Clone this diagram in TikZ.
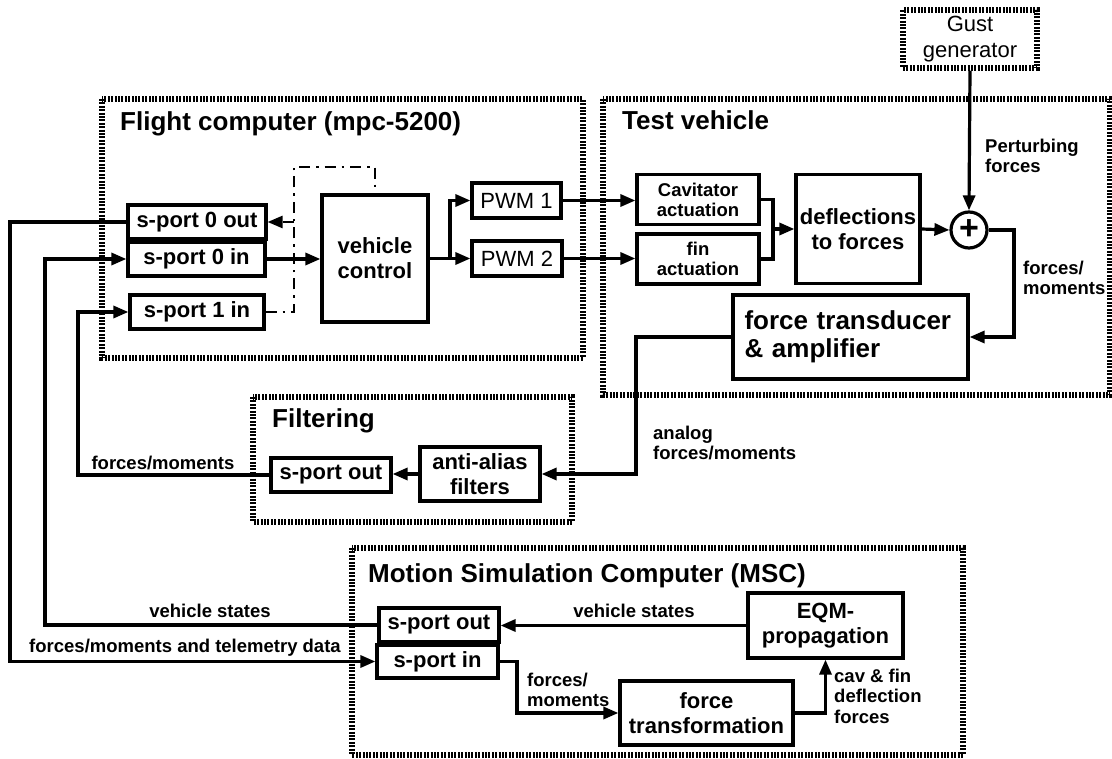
\documentclass[tikz,border=0pt]{standalone}
\usepackage{fontspec}
\setmainfont{Liberation Sans}
\usetikzlibrary{arrows.meta}

\begin{document}
\begin{tikzpicture}[x=1pt,y=-1pt,
  blk/.style={draw,line width=3.2pt,inner sep=0pt,align=center,
    font=\fontsize{22}{25}\selectfont\bfseries},
  plain/.style={font=\fontsize{22}{26}\selectfont\mdseries},
  lbl/.style={inner sep=0pt,align=left,font=\fontsize{18.5}{20.5}\selectfont\bfseries},
  ttl/.style={anchor=base west,inner sep=0pt,font=\fontsize{26}{28}\selectfont\bfseries},
  grp/.style={line width=5.5pt,dash pattern=on 2pt off 1.4pt},
  wire/.style={line width=3.2pt},
  arr/.style={wire,-{Triangle[length=15pt,width=12pt]}},
  ctrl/.style={line width=2.6pt,dash pattern=on 11pt off 6pt on 2.5pt off 6pt}]
\useasboundingbox (0,0) rectangle (1112,759);

%FLIGHT COMPUTER
  \draw[grp] (102,99) rectangle (583,358);
  \node[ttl] (fctitle) at (120,131) {Flight computer (mpc-5200)};
  \node[blk,minimum width=138,minimum height=34] (sp0out) at (197,222) {s-port 0 out};
  \node[blk,minimum width=137,minimum height=34] (sp0in) at (196.5,259) {s-port 0 in};
  \node[blk,minimum width=134,minimum height=34] (sp1in) at (197,312) {s-port 1 in};
  \node[blk,minimum width=106,minimum height=127] (vc) at (375,258.5) {vehicle\\control};
  \node[blk,plain,minimum width=89,minimum height=35] (pwm1) at (516.5,200.5) {PWM 1};
  \node[blk,plain,minimum width=90,minimum height=35] (pwm2) at (517,258.5) {PWM 2};
  \coordinate (dd) at (294,167);
  \coordinate (br) at (450,258.5);
  \draw[arr] (sp0in.east) -- (sp0in.east -| vc.west);
  \draw[ctrl] (sp1in.east) -| (dd) -| (vc.north);
  \draw[ctrl,-{Triangle[length=15pt,width=12pt]}] (dd |- sp0out.east) -- (sp0out.east);
  \draw[wire] (vc.east) -- (br);
  \draw[arr] (br) |- (pwm1.west);
  \draw[arr] (br) -- (pwm2.west);

%TEST VEHICLE
  \draw[grp] (603,99) rectangle (1110,395);
  \node[ttl] (tvtitle) at (622,130) {Test vehicle};
  \node[draw,grp,plain,align=center,inner sep=0pt,minimum width=134,minimum height=58]
    (gust) at (970,39) {Gust\\generator};
  \node[blk,font=\fontsize{18.5}{20}\selectfont\bfseries,minimum width=122,minimum height=50]
    (cav) at (698,199.5) {Cavitator\\actuation};
  \node[blk,font=\fontsize{18.5}{20}\selectfont\bfseries,minimum width=122,minimum height=50]
    (fin) at (698,259) {fin\\actuation};
  \node[blk,minimum width=124,minimum height=109] (defl) at (858,229) {deflections\\to forces};
  \node[draw,circle,line width=3.2pt,minimum size=36,inner sep=0pt,
    font=\fontsize{34}{34}\selectfont\bfseries] (sum) at (969,230) {+};
  \node[blk,align=left,text width=212,inner xsep=11.5pt,minimum height=84,
    font=\fontsize{26}{28}\selectfont\bfseries] (ftr) at (850.5,337) {force transducer\\\& amplifier};
  \coordinate (jn) at (773,229);
  \coordinate (fm) at (1014,337);
  \draw[arr] (pwm1.east) -- (pwm1.east -| cav.west);
  \draw[arr] (pwm2.east) -- (pwm2.east -| fin.west);
  \draw[wire] (cav.east) -| (jn);
  \draw[wire] (fin.east) -| (jn);
  \draw[arr] (jn) -- (defl.west);
  \draw[arr] (defl.east) -- (sum.west);
  \draw[arr] (gust.south) -- (sum.north);
  \draw[arr] (sum.east) -| (fm) -- (ftr.east);
  \node[lbl,anchor=west] (pert) at (985,156) {Perturbing\\forces};
  \node[lbl,anchor=west] (fmr) at (1023,278) {forces/\\moments};

%FILTERING
  \draw[grp] (253,397) rectangle (572,522);
  \node[ttl] (fltitle) at (272,428) {Filtering};
  \node[blk,minimum width=120,minimum height=54] (aa) at (480,474) {anti-alias\\filters};
  \node[blk,minimum width=120,minimum height=34] (fout) at (331,475) {s-port out};
  \coordinate (an) at (636,474);
  \draw[arr] (ftr.west) -| (an) -- (aa.east);
  \draw[arr] (aa.west) -- (aa.west -| fout.east);
  \node[lbl,anchor=west] (anlg) at (653,443) {analog\\forces/moments};

%MSC
  \draw[grp] (352,548) rectangle (963,755);
  \node[ttl] (mstitle) at (368,582) {Motion Simulation Computer (MSC)};
  \node[blk,minimum width=155,minimum height=65] (eqm) at (825.5,625.5) {EQM-\\propagation};
  \node[blk,minimum width=120,minimum height=34] (mout) at (439,625) {s-port out};
  \node[blk,minimum width=121,minimum height=33] (min) at (437.5,661.5) {s-port in};
  \node[blk,minimum width=173,minimum height=64] (ftf) at (706.5,713) {force\\transformation};
  \coordinate (fm2) at (517,713);
  \draw[arr] (eqm.west) -- (eqm.west -| mout.east);
  \draw[arr] (min.east) -| (fm2) -- (ftf.west);
  \draw[arr] (ftf.east) -| (eqm.south);
  \node[lbl] (vsm) at (634,611) {vehicle states};
  \node[lbl,anchor=west] (fmm) at (527,690) {forces/\\moments};
  \node[lbl,anchor=west] (cav2) at (834,696) {cav \& fin\\deflection\\forces};

%LINKS BETWEEN COMPUTERS
  \draw[arr] (sp0out.west) -- (10,222) |- (min.west);
  \draw[arr] (mout.west) -- (45,625) |- (sp0in.west);
  \draw[arr] (fout.west) -- (78,475) |- (sp1in.west);
  \node[lbl] (fml) at (163,463) {forces/moments};
  \node[lbl] (vsl) at (210,611) {vehicle states};
  \node[lbl] (tel) at (185,648) {forces/moments and telemetry data};
\end{tikzpicture}
\end{document}
